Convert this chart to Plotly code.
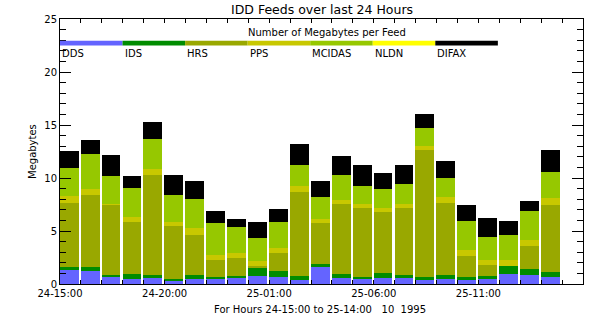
import plotly.graph_objects as go

# ---- data ----
feeds = ["DDS", "IDS", "HRS", "PPS", "MCIDAS", "NLDN", "DIFAX"]
colors = ["#6464ff", "#008c00", "#99a800", "#c8c800", "#96c800", "#ffff00", "#000000"]
hour_index = list(range(24))
tick_hours = [0, 5, 10, 15, 20]
tick_labels = ["24-15:00", "24-20:00", "25-01:00", "25-06:00", "25-11:00"]

dds = [1.32, 1.23, 0.66, 0.47, 0.57, 0.28, 0.47, 0.47, 0.57, 0.76, 0.66, 0.38,
       1.61, 0.57, 0.47, 0.57, 0.57, 0.38, 0.47, 0.38, 0.47, 0.94, 0.85, 0.66]
ids = [0.29, 0.38, 0.19, 0.47, 0.28, 0.19, 0.38, 0.19, 0.19, 0.75, 0.57, 0.38,
       0.28, 0.37, 0.19, 0.47, 0.28, 0.28, 0.38, 0.28, 0.29, 0.76, 0.57, 0.47]
hrs = [6.04, 6.79, 6.61, 4.91, 9.44, 5.01, 3.78, 1.61, 1.70, 0.19, 1.70, 7.93,
       3.87, 6.61, 6.52, 5.76, 6.33, 11.99, 6.80, 1.98, 1.03, 0.00, 2.17, 6.33]
pps = [0.66, 0.57, 0.12, 0.48, 0.57, 0.37, 0.66, 0.47, 0.47, 0.47, 0.47, 0.56,
       0.38, 0.38, 0.37, 0.38, 0.37, 0.38, 0.57, 0.57, 0.48, 0.57, 0.56, 0.66]
mcidas = [2.64, 3.31, 2.62, 2.74, 2.83, 2.55, 2.74, 3.02, 2.45, 2.17, 2.45, 1.99,
          2.08, 2.36, 1.70, 1.79, 1.89, 1.70, 1.79, 2.74, 2.17, 2.36, 2.74, 2.46]
nldn = [0.0] * 24
difax = [1.61, 1.32, 1.98, 1.13, 1.61, 1.89, 1.70, 1.13, 0.76, 1.51, 1.23, 1.98,
         1.51, 1.80, 1.99, 1.51, 1.80, 1.32, 1.60, 1.51, 1.79, 1.32, 0.95, 2.07]
series = [dds, ids, hrs, pps, mcidas, nldn, difax]

title = "IDD Feeds over last 24 Hours"
legend_title = "Number of Megabytes per Feed"
y_title = "Megabytes"
x_title = "For Hours 24-15:00 to 25-14:00\u00a0\u00a0\u00a010\u00a0\u00a01995"

FONT = "DejaVu Sans"

fig = go.Figure()
xpos = [h + 0.44 for h in hour_index]
for name, col, vals in zip(feeds, colors, series):
    fig.add_trace(go.Bar(x=xpos, y=vals, name=name, width=0.9,
                         marker=dict(color=col, line=dict(width=0)),
                         showlegend=False))

# custom legend strip
seg = 2.99
shapes = []
annotations = []
for i, (name, col) in enumerate(zip(feeds, colors)):
    shapes.append(dict(type="rect", xref="x", yref="y",
                       x0=seg * i, x1=seg * (i + 1), y0=22.5, y1=22.95,
                       fillcolor=col, line=dict(width=0), layer="above"))
    annotations.append(dict(xref="x", yref="y", x=seg * i, y=21.72,
                            xanchor="left", yanchor="middle", text=name,
                            showarrow=False, font=dict(size=10, color="black", family=FONT)))
annotations.append(dict(xref="x", yref="y", x=12.74, y=23.68, text=legend_title,
                        showarrow=False, xanchor="center", yanchor="middle",
                        font=dict(size=10, color="black", family=FONT)))
annotations.append(dict(xref="paper", yref="paper", x=0.5, y=1.036, text=title,
                        showarrow=False, xanchor="center", yanchor="middle",
                        font=dict(size=12.5, color="black", family=FONT)))
annotations.append(dict(xref="paper", yref="paper", x=-0.0526, y=0.5, text=y_title,
                        showarrow=False, textangle=-90, xanchor="center", yanchor="middle",
                        font=dict(size=10, color="black", family=FONT)))
annotations.append(dict(xref="paper", yref="paper", x=0.497, y=-0.098, text=x_title,
                        showarrow=False, xanchor="center", yanchor="middle",
                        font=dict(size=10, color="black", family=FONT)))

fig.update_layout(
    width=600, height=325,
    margin=dict(l=60, r=17, t=19, b=41, pad=0),
    paper_bgcolor="white", plot_bgcolor="white",
    barmode="stack", bargap=0,
    shapes=shapes, annotations=annotations,
    xaxis=dict(range=[0, 25], tickvals=tick_hours, ticktext=tick_labels,
               ticks="inside", ticklen=4, tickcolor="black", tickwidth=1,
               showline=True, linecolor="black", linewidth=1, mirror="ticks",
               showgrid=False, zeroline=False,
               minor=dict(dtick=1, tick0=0, ticks="inside", ticklen=4,
                          tickcolor="black", showgrid=False),
               tickfont=dict(size=10, color="black", family=FONT)),
    yaxis=dict(range=[0, 25], tickvals=[0, 5, 10, 15, 20, 25],
               ticks="inside", ticklen=11, tickcolor="black", tickwidth=1,
               showline=True, linecolor="black", linewidth=1, mirror="ticks",
               showgrid=False, zeroline=False,
               minor=dict(dtick=1, tick0=0, ticks="inside", ticklen=6,
                          tickcolor="black", showgrid=False),
               tickfont=dict(size=10, color="black", family=FONT)),
)

fig.write_html("out.html")
